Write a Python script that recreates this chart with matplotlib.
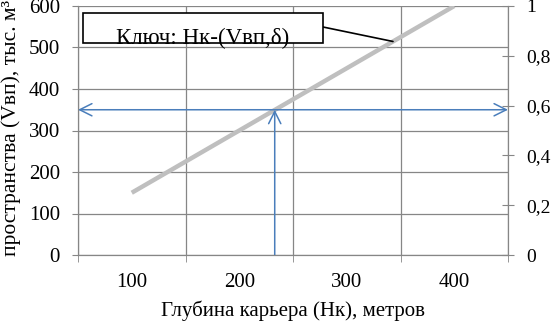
import matplotlib
matplotlib.use("Agg")
import matplotlib.pyplot as plt
from matplotlib.patches import Rectangle
import numpy as np

# data
depths = [100, 200, 300, 400]            # Нк, метров (categories)
volumes = [150, 300, 450, 600]           # Vвп, тыс. м3
level_v = 350                            # horizontal arrow level
level_h = 233                            # vertical arrow depth
key_depth = 343                          # where the key leader touches the line
left_ticks = [0, 100, 200, 300, 400, 500, 600]
right_ticks = [0, 0.2, 0.4, 0.6, 0.8, 1.0]
right_labels = ["0", "0,2", "0,4", "0,6", "0,8", "1"]

plt.rcParams['font.family'] = ['Liberation Serif', 'DejaVu Serif']
fs = 15
grid_c = "#868686"
blue = "#4a7ebb"


def cat_pos(d):
    # category axis: 100 -> 1, 200 -> 2, ...
    return 1 + (d - depths[0]) / (depths[1] - depths[0])


fig = plt.figure(figsize=(5.52, 3.21), dpi=100)
ax = fig.add_axes([78 / 552, 1 - 255 / 321, (508 - 78) / 552, (255 - 6) / 321])

x = [cat_pos(d) for d in depths]
ax.plot(x, volumes, color="#bfbfbf", lw=3.2, solid_capstyle="butt", zorder=3)

ax.set_xlim(0.5, 4.5)
ax.set_ylim(0, 600)
ax.set_yticks(left_ticks)
ax.set_xticks(x)
ax.set_xticklabels([str(d) for d in depths], fontsize=fs)
ax.set_xticks(np.arange(0.5, 4.6, 1.0), minor=True)
ax.tick_params(axis="x", which="major", length=0, pad=13)
ax.tick_params(axis="x", which="minor", length=5, color=grid_c, direction="out")
ax.tick_params(axis="y", length=4, color=grid_c, labelsize=fs, pad=9)
ax.grid(True, which="minor", axis="x", color=grid_c, lw=0.9)
ax.grid(True, which="major", axis="y", color=grid_c, lw=0.9)
for s in ax.spines.values():
    s.set_color(grid_c)
ax.spines["top"].set_visible(False)

# arrows
ax.annotate("", xy=(0.5, level_v), xytext=(4.5, level_v),
            arrowprops=dict(arrowstyle="<->", color=blue, lw=1.1,
                            mutation_scale=22, shrinkA=0, shrinkB=0), zorder=4)
ax.annotate("", xy=(cat_pos(level_h), level_v), xytext=(cat_pos(level_h), 0),
            arrowprops=dict(arrowstyle="->", color=blue, lw=1.1,
                            mutation_scale=22, shrinkA=0, shrinkB=0), zorder=4)

ax2 = ax.twinx()
ax2.set_ylim(0, 1)
ax2.set_yticks(right_ticks)
ax2.set_yticklabels(right_labels, fontsize=14)
ax2.tick_params(axis="y", length=9, color=grid_c, direction="inout", pad=8.5)
for s in ax2.spines.values():
    s.set_color(grid_c)
ax2.spines["top"].set_visible(False)

# key box with leader line
fig.patches.append(Rectangle((83 / 552, 1 - 43 / 321), 240 / 552, 30 / 321,
                             transform=fig.transFigure, fc="white", ec="black",
                             lw=1.2, zorder=5))
fig.text(203 / 552, 1 - 44 / 321, "Ключ: Нк-(Vвп,δ)", fontsize=16.5,
         ha="center", va="baseline", zorder=6)
key_v = volumes[0] + (key_depth - depths[0]) * (volumes[1] - volumes[0]) / (depths[1] - depths[0])
ax.annotate("", xy=(cat_pos(key_depth), key_v), xytext=(323 / 552, 1 - 27 / 321),
            textcoords="figure fraction",
            arrowprops=dict(arrowstyle="-", color="black", lw=1.2,
                            shrinkA=0, shrinkB=0), zorder=6)

fig.text(293 / 552, 1 - 316 / 321, "Глубина карьера (Нк), метров",
         fontsize=fs, ha="center", va="baseline")
fig.text(11 / 552, 1.0, "пространства (Vвп), тыс. м³", rotation=90,
         fontsize=15.5, ha="center", va="top")

fig.savefig("out.png", dpi=100)
